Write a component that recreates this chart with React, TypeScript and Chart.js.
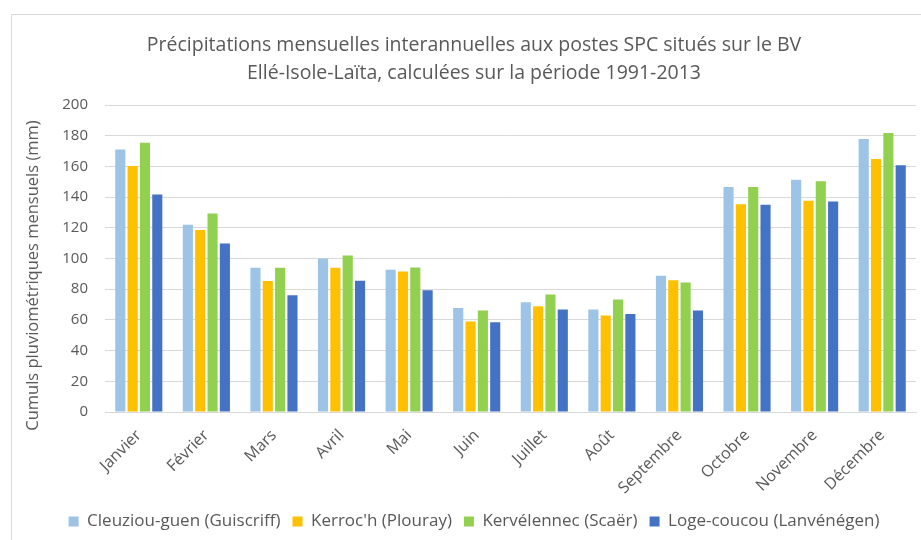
import React, { useEffect, useRef } from "react";
import { Chart, registerables } from "chart.js";

Chart.register(...registerables);

const months = ["Janvier", "Février", "Mars", "Avril", "Mai", "Juin", "Juillet", "Août", "Septembre", "Octobre", "Novembre", "Décembre"];
const cleuziou = [171, 122, 94, 100, 92.6, 67.8, 71.5, 66.7, 88.7, 146.5, 151.3, 177.8];
const kerroch = [160.2, 118.5, 85.4, 94, 91.5, 58.9, 68.9, 62.8, 85.9, 135.4, 137.6, 164.8];
const kervelennec = [175.4, 129.3, 94, 102, 94.1, 66.1, 76.5, 73.3, 84.3, 146.5, 150.4, 181.7];
const logeCoucou = [141.7, 109.8, 76, 85.5, 79.3, 58.5, 66.7, 63.9, 66.1, 135, 137.2, 160.7];
const seriesNames = ["Cleuziou-guen (Guiscriff)", "Kerroc'h (Plouray)", "Kervélennec (Scaër)", "Loge-coucou (Lanvénégen)"];
const titleLines = ["Précipitations mensuelles interannuelles aux postes SPC situés sur le BV", "Ellé-Isole-Laïta, calculées sur la période 1991-2013"];
const yTitle = "Cumuls pluviométriques mensuels (mm)";

const FONT = "'Open Sans', 'Noto Sans', sans-serif";
const TEXT = "#595959";
const GRID = "#D9D9D9";

const yTitlePlugin = {
  id: "yTitleCustom",
  afterDraw(c: any) {
    const ctx = c.ctx;
    const a = c.chartArea;
    ctx.save();
    ctx.translate(21, (a.top + a.bottom) / 2 + 17);
    ctx.rotate(-Math.PI / 2);
    ctx.font = `16.5px ${FONT}`;
    ctx.fillStyle = TEXT;
    ctx.textAlign = "center";
    ctx.textBaseline = "middle";
    ctx.fillText(yTitle, 0, 0);
    ctx.restore();
  },
};

export default function App() {
  const ref = useRef<HTMLCanvasElement | null>(null);
  useEffect(() => {
    if (!ref.current) return;
    const colors = ["#9DC3E6", "#FFC000", "#92D050", "#4472C4"];
    const values = [cleuziou, kerroch, kervelennec, logeCoucou];
    const chart = new Chart(ref.current, {
      type: "bar",
      data: {
        labels: months,
        datasets: values.map((v, i) => ({
          label: seriesNames[i],
          data: v,
          backgroundColor: colors[i],
          borderWidth: 0,
          categoryPercentage: 0.73,
          barPercentage: 0.82,
        })),
      },
      plugins: [yTitlePlugin],
      options: {
        responsive: false,
        animation: false,
        layout: { padding: { left: 0, right: 0, top: 0, bottom: 15 } },
        plugins: {
          tooltip: { enabled: false },
          title: {
            display: true,
            text: titleLines,
            color: TEXT,
            font: { family: FONT, size: 19.5, weight: "normal", lineHeight: "28px" },
            padding: { top: 16, bottom: 18 },
          },
          legend: {
            display: true,
            position: "bottom",
            labels: {
              color: TEXT,
              font: { family: FONT, size: 17 },
              boxWidth: 10,
              boxHeight: 10,
              padding: 12,
            },
          },
        },
        scales: {
          x: {
            grid: { display: false, drawTicks: false },
            border: { display: true, color: GRID, width: 1 },
            ticks: {
              color: TEXT,
              font: { family: FONT, size: 16 },
              maxRotation: 45,
              minRotation: 45,
              padding: 14,
            },
            afterFit: (scale: any) => {
              scale.height = 89;
            },
          },
          y: {
            min: 0,
            max: 200,
            grid: { color: GRID, drawTicks: false },
            border: { display: false },
            ticks: {
              stepSize: 20,
              color: TEXT,
              font: { family: FONT, size: 15 },
              padding: 17,
            },
            afterFit: (scale: any) => {
              scale.width = 93;
            },
          },
          yRight: {
            position: "right",
            min: 0,
            max: 200,
            grid: { display: false, drawTicks: false },
            border: { display: false },
            ticks: { display: false },
            afterFit: (scale: any) => {
              scale.width = 20;
            },
          },
        },
      },
    });
    return () => chart.destroy();
  }, []);

  return (
    <div style={{ position: "fixed", left: 0, top: 0, width: 921, height: 540, overflow: "hidden", background: "#fff" }}>
      <div style={{ position: "absolute", left: 11, top: 14, width: 924, height: 540, border: `1px solid ${GRID}` }}>
        <canvas ref={ref} width={924} height={540} style={{ display: "block" }} />
      </div>
    </div>
  );
}
